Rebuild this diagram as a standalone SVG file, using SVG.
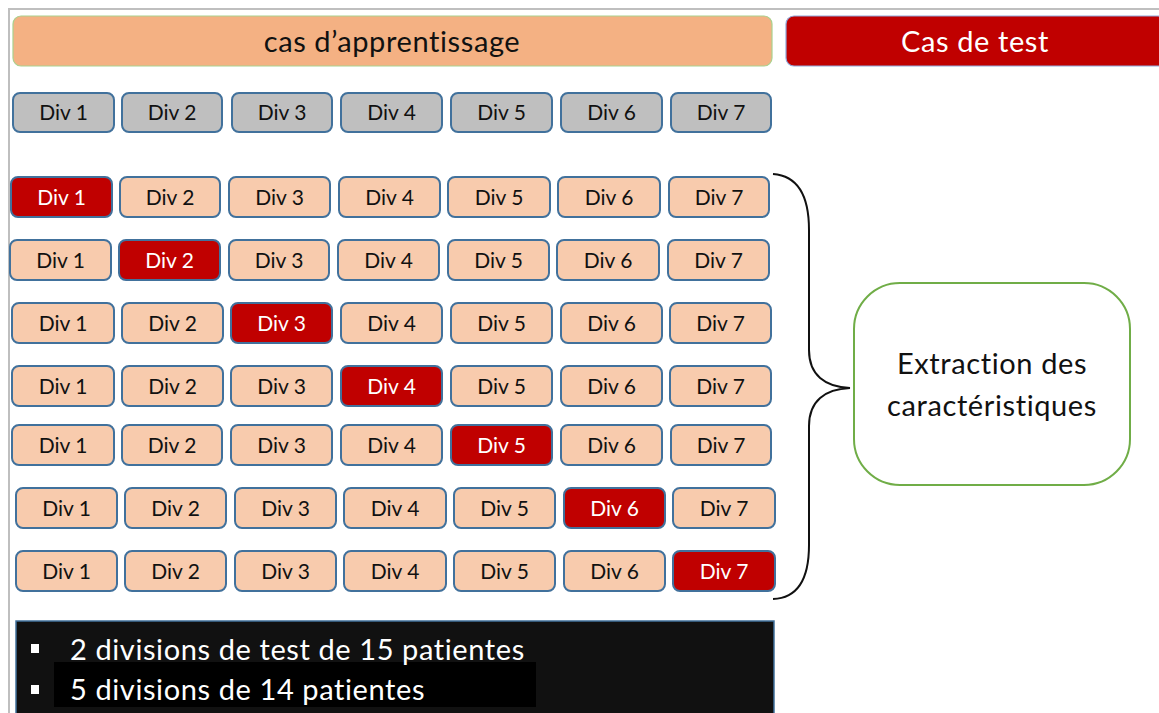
<svg xmlns="http://www.w3.org/2000/svg" width="1159" height="713" viewBox="0 0 1159 713">
<style>
.d rect{stroke:#41719C;stroke-width:2}
.g rect{fill:#BFBFBF}
.p rect{fill:#F8CBAD}
.r rect{fill:#C00000}
.d text{font-family:Lato,"Liberation Sans",sans-serif;font-size:21px;text-anchor:middle;fill:#111;font-variant-ligatures:none}
.r text{fill:#fff}
.t{font-family:Lato,"Liberation Sans",sans-serif;font-variant-ligatures:none;letter-spacing:0.6px}
</style>
<rect x="0" y="0" width="1159" height="713" fill="#fff"/>
<path d="M9,713 V9 H1159" fill="none" stroke="#BFBFBF" stroke-width="2"/>
<g id="header-train"><rect x="13" y="16" width="759" height="50" rx="8" fill="#F4B183" stroke="#A9D18E" stroke-width="1.2"/><text x="392" y="52" class="t" font-size="29" text-anchor="middle" fill="#111">cas d’apprentissage</text></g>
<g id="header-test"><rect x="786" y="16" width="380" height="50" rx="8" fill="#C00000" stroke="#8FAADC" stroke-width="1.2"/><text x="975" y="52" class="t" font-size="29" text-anchor="middle" fill="#fff">Cas de test</text></g>
<g id="row0">
<g id="r0d1" class="d g"><rect x="13" y="93" width="101" height="39" rx="7"/><text x="63.5" y="120">Div 1</text></g>
<g id="r0d2" class="d g"><rect x="122" y="93" width="100" height="39" rx="7"/><text x="172" y="120">Div 2</text></g>
<g id="r0d3" class="d g"><rect x="232" y="93" width="100" height="39" rx="7"/><text x="282" y="120">Div 3</text></g>
<g id="r0d4" class="d g"><rect x="341" y="93" width="101" height="39" rx="7"/><text x="391.5" y="120">Div 4</text></g>
<g id="r0d5" class="d g"><rect x="451" y="93" width="101" height="39" rx="7"/><text x="501.5" y="120">Div 5</text></g>
<g id="r0d6" class="d g"><rect x="561" y="93" width="101" height="39" rx="7"/><text x="611.5" y="120">Div 6</text></g>
<g id="r0d7" class="d g"><rect x="671" y="93" width="100" height="39" rx="7"/><text x="721" y="120">Div 7</text></g>
</g>
<g id="row1">
<g id="r1d1" class="d r"><rect x="11" y="177" width="101" height="40" rx="7"/><text x="61.5" y="205">Div 1</text></g>
<g id="r1d2" class="d p"><rect x="120" y="177" width="100" height="40" rx="7"/><text x="170" y="205">Div 2</text></g>
<g id="r1d3" class="d p"><rect x="229" y="177" width="101" height="40" rx="7"/><text x="279.5" y="205">Div 3</text></g>
<g id="r1d4" class="d p"><rect x="339" y="177" width="101" height="40" rx="7"/><text x="389.5" y="205">Div 4</text></g>
<g id="r1d5" class="d p"><rect x="448" y="177" width="102" height="40" rx="7"/><text x="499" y="205">Div 5</text></g>
<g id="r1d6" class="d p"><rect x="558" y="177" width="102" height="40" rx="7"/><text x="609" y="205">Div 6</text></g>
<g id="r1d7" class="d p"><rect x="669" y="177" width="100" height="40" rx="7"/><text x="719" y="205">Div 7</text></g>
</g>
<g id="row2">
<g id="r2d1" class="d p"><rect x="10" y="240" width="101" height="40" rx="7"/><text x="60.5" y="268">Div 1</text></g>
<g id="r2d2" class="d r"><rect x="119" y="240" width="101" height="40" rx="7"/><text x="169.5" y="268">Div 2</text></g>
<g id="r2d3" class="d p"><rect x="229" y="240" width="100" height="40" rx="7"/><text x="279" y="268">Div 3</text></g>
<g id="r2d4" class="d p"><rect x="338" y="240" width="101" height="40" rx="7"/><text x="388.5" y="268">Div 4</text></g>
<g id="r2d5" class="d p"><rect x="448" y="240" width="101" height="40" rx="7"/><text x="498.5" y="268">Div 5</text></g>
<g id="r2d6" class="d p"><rect x="557" y="240" width="102" height="40" rx="7"/><text x="608" y="268">Div 6</text></g>
<g id="r2d7" class="d p"><rect x="668" y="240" width="101" height="40" rx="7"/><text x="718.5" y="268">Div 7</text></g>
</g>
<g id="row3">
<g id="r3d1" class="d p"><rect x="12" y="303" width="102" height="40" rx="7"/><text x="63" y="331">Div 1</text></g>
<g id="r3d2" class="d p"><rect x="122" y="303" width="101" height="40" rx="7"/><text x="172.5" y="331">Div 2</text></g>
<g id="r3d3" class="d r"><rect x="231" y="303" width="101" height="40" rx="7"/><text x="281.5" y="331">Div 3</text></g>
<g id="r3d4" class="d p"><rect x="341" y="303" width="101" height="40" rx="7"/><text x="391.5" y="331">Div 4</text></g>
<g id="r3d5" class="d p"><rect x="451" y="303" width="101" height="40" rx="7"/><text x="501.5" y="331">Div 5</text></g>
<g id="r3d6" class="d p"><rect x="561" y="303" width="101" height="40" rx="7"/><text x="611.5" y="331">Div 6</text></g>
<g id="r3d7" class="d p"><rect x="670" y="303" width="101" height="40" rx="7"/><text x="720.5" y="331">Div 7</text></g>
</g>
<g id="row4">
<g id="r4d1" class="d p"><rect x="12" y="366" width="102" height="40" rx="7"/><text x="63" y="394">Div 1</text></g>
<g id="r4d2" class="d p"><rect x="122" y="366" width="101" height="40" rx="7"/><text x="172.5" y="394">Div 2</text></g>
<g id="r4d3" class="d p"><rect x="231" y="366" width="101" height="40" rx="7"/><text x="281.5" y="394">Div 3</text></g>
<g id="r4d4" class="d r"><rect x="341" y="366" width="101" height="40" rx="7"/><text x="391.5" y="394">Div 4</text></g>
<g id="r4d5" class="d p"><rect x="451" y="366" width="101" height="40" rx="7"/><text x="501.5" y="394">Div 5</text></g>
<g id="r4d6" class="d p"><rect x="561" y="366" width="101" height="40" rx="7"/><text x="611.5" y="394">Div 6</text></g>
<g id="r4d7" class="d p"><rect x="670" y="366" width="101" height="40" rx="7"/><text x="720.5" y="394">Div 7</text></g>
</g>
<g id="row5">
<g id="r5d1" class="d p"><rect x="12" y="425" width="102" height="40" rx="7"/><text x="63" y="453">Div 1</text></g>
<g id="r5d2" class="d p"><rect x="122" y="425" width="100" height="40" rx="7"/><text x="172" y="453">Div 2</text></g>
<g id="r5d3" class="d p"><rect x="231" y="425" width="101" height="40" rx="7"/><text x="281.5" y="453">Div 3</text></g>
<g id="r5d4" class="d p"><rect x="341" y="425" width="101" height="40" rx="7"/><text x="391.5" y="453">Div 4</text></g>
<g id="r5d5" class="d r"><rect x="451" y="425" width="101" height="40" rx="7"/><text x="501.5" y="453">Div 5</text></g>
<g id="r5d6" class="d p"><rect x="561" y="425" width="101" height="40" rx="7"/><text x="611.5" y="453">Div 6</text></g>
<g id="r5d7" class="d p"><rect x="671" y="425" width="100" height="40" rx="7"/><text x="721" y="453">Div 7</text></g>
</g>
<g id="row6">
<g id="r6d1" class="d p"><rect x="16" y="488" width="101" height="40" rx="7"/><text x="66.5" y="516">Div 1</text></g>
<g id="r6d2" class="d p"><rect x="125" y="488" width="101" height="40" rx="7"/><text x="175.5" y="516">Div 2</text></g>
<g id="r6d3" class="d p"><rect x="235" y="488" width="101" height="40" rx="7"/><text x="285.5" y="516">Div 3</text></g>
<g id="r6d4" class="d p"><rect x="344" y="488" width="102" height="40" rx="7"/><text x="395" y="516">Div 4</text></g>
<g id="r6d5" class="d p"><rect x="454" y="488" width="101" height="40" rx="7"/><text x="504.5" y="516">Div 5</text></g>
<g id="r6d6" class="d r"><rect x="564" y="488" width="101" height="40" rx="7"/><text x="614.5" y="516">Div 6</text></g>
<g id="r6d7" class="d p"><rect x="673" y="488" width="102" height="40" rx="7"/><text x="724" y="516">Div 7</text></g>
</g>
<g id="row7">
<g id="r7d1" class="d p"><rect x="16" y="551" width="101" height="40" rx="7"/><text x="66.5" y="579">Div 1</text></g>
<g id="r7d2" class="d p"><rect x="125" y="551" width="101" height="40" rx="7"/><text x="175.5" y="579">Div 2</text></g>
<g id="r7d3" class="d p"><rect x="235" y="551" width="101" height="40" rx="7"/><text x="285.5" y="579">Div 3</text></g>
<g id="r7d4" class="d p"><rect x="344" y="551" width="102" height="40" rx="7"/><text x="395" y="579">Div 4</text></g>
<g id="r7d5" class="d p"><rect x="454" y="551" width="101" height="40" rx="7"/><text x="504.5" y="579">Div 5</text></g>
<g id="r7d6" class="d p"><rect x="564" y="551" width="101" height="40" rx="7"/><text x="614.5" y="579">Div 6</text></g>
<g id="r7d7" class="d r"><rect x="673" y="551" width="102" height="40" rx="7"/><text x="724" y="579">Div 7</text></g>
</g>
<g id="connectors">
<path d="M773,174 C800,176 809,200 809,230 V350 C809,375 825,387 850,388 C825,389 809,401 809,426 V545 C809,575 800,598 773,599" fill="none" stroke="#111" stroke-width="2"/>
</g>
<g id="extraction"><rect x="854" y="283" width="276" height="202" rx="46" fill="#fff" stroke="#70AD47" stroke-width="2"/>
<text class="t" font-size="29" text-anchor="middle" fill="#111"><tspan x="992" y="374">Extraction des</tspan><tspan x="992" y="416">caractéristiques</tspan></text></g>
<g id="notes"><rect x="16" y="621" width="758" height="100" fill="#111" stroke="#41719C" stroke-width="1.5"/>
<rect x="54" y="662" width="482" height="45" fill="#000"/>
<rect x="31" y="644" width="8" height="9" fill="#fff"/>
<rect x="31" y="685" width="8" height="9" fill="#fff"/>
<text class="t" font-size="29" fill="#fff"><tspan x="70" y="660">2 divisions de test de 15 patientes</tspan><tspan x="70" y="700">5 divisions de 14 patientes</tspan></text></g>
</svg>
